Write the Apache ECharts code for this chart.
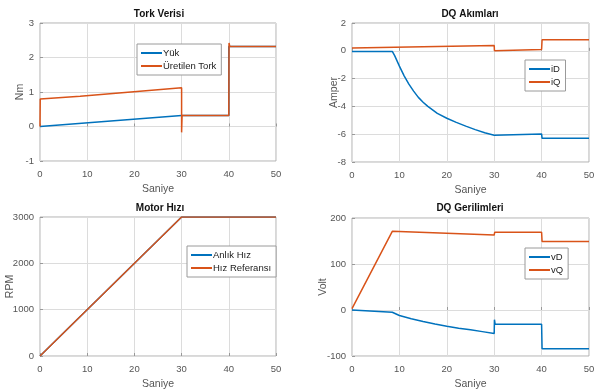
<!DOCTYPE html>
<html><head><meta charset="utf-8">
<script src="https://cdn.jsdelivr.net/npm/echarts@6/dist/echarts.min.js"></script>
<style>html,body{margin:0;padding:0;background:#fff}#c{width:594px;height:391px}</style>
</head><body><div id="c"></div>
<script>
// ---- data (time in s, value) ----
const yukData = [[0,0],[30,0.32],[30,0.32],[40,0.32],[40,2.32],[50,2.32]];
const uretilenData = [[0,0],[0.05,0.8],[8.5,0.88],[8.6,0.84],[8.7,0.89],[30,1.12],[30,-0.17],[30.1,0.32],[40,0.32],[40.05,2.42],[40.2,2.32],[50,2.32]];
const iDData = [[0,-0.05],[8.5,-0.05],[9,-0.35],[10,-1.1],[11,-1.8],[12,-2.4],[13,-2.9],[14,-3.35],[15,-3.7],[16,-4.0],[18,-4.5],[20,-4.85],[22,-5.15],[24,-5.42],[26,-5.67],[28,-5.9],[30,-6.08],[30.1,-5.98],[40,-5.98],[40.1,-6.3],[50,-6.3]];
const iQData = [[0,0.2],[30,0.38],[30.05,0.0],[30.2,0.08],[40,0.1],[40.1,0.8],[50,0.8]];
const anlikData = [[0,0],[30,3000],[50,3000]];
const referansData = [[0,0],[30,3000],[50,3000]];
const vDData = [[0,0],[8.5,-5],[10,-12],[12.5,-19],[15,-25],[17.5,-30.5],[20,-35.5],[22.5,-39.5],[25,-43],[27.5,-47],[30,-51],[30.05,-21],[30.2,-31],[40,-31],[40.1,-84],[50,-84]];
const vQData = [[0,3],[8.5,171],[30,163],[30.1,169],[40,169],[40.1,149],[50,149]];
const titles = ['Tork Verisi','DQ Akımları','Motor Hızı','DQ Gerilimleri'];
const yNames = ['Nm','Amper','RPM','Volt'];
const xName = 'Saniye';
const yMins = [-1,-8,0,-100], yMaxs = [3,2,3000,200], yInts = [1,2,1000,100];

const BLUE = '#0072BD', ORANGE = '#D95319';
const FONT = 'Liberation Sans, Arial, sans-serif';
const grids = [
  {left:40, top:23, width:236, height:138},
  {left:352, top:23, width:237, height:139},
  {left:40, top:217, width:236, height:139},
  {left:352, top:218, width:237, height:138}
];
const titlePos = [[159,9],[470,9],[160,203],[470,203]];
const legendPos = [[137,44],[525,60],[187,246],[525,248]];
const seriesNames = [['Yük','Üretilen Tork'],['iD','iQ'],['Anlık Hız','Hız Referansı'],['vD','vQ']];
const seriesData = [[yukData,uretilenData],[iDData,iQData],[anlikData,referansData],[vDData,vQData]];
const yNameGaps = [14,12.5,24.5,23.5];

const option = {
  animation:false,
  textStyle:{fontFamily:FONT},
  grid: grids.map(g=>Object.assign({show:true,borderColor:'#b0b0b0',borderWidth:1,backgroundColor:'#fff',
    containLabel:false,outerBoundsMode:'none'},g)),
  title: titles.map((t,i)=>({text:t,left:titlePos[i][0],top:titlePos[i][1],textAlign:'center',padding:0,
    textStyle:{fontSize:10,fontWeight:'bold',color:'#111',fontFamily:FONT}})),
  xAxis: grids.map((g,i)=>({type:'value',gridIndex:i,min:0,max:50,interval:10,
    name:xName,nameLocation:'middle',nameGap:23,nameMoveOverlap:false,nameTextStyle:{fontSize:10.5,color:'#555'},
    axisLine:{show:false},axisTick:{show:true,inside:true,length:3,lineStyle:{color:'#999'}},
    axisLabel:{fontSize:9.5,color:'#555',margin:8},
    splitLine:{show:true,lineStyle:{color:'#dcdcdc',width:1}}})),
  yAxis: grids.map((g,i)=>({type:'value',gridIndex:i,min:yMins[i],max:yMaxs[i],interval:yInts[i],
    name:yNames[i],nameLocation:'middle',nameGap:yNameGaps[i],nameMoveOverlap:false,nameTextStyle:{fontSize:10.5,color:'#555'},
    axisLine:{show:false},axisTick:{show:true,inside:true,length:3,lineStyle:{color:'#999'}},
    axisLabel:{fontSize:9.5,color:'#555',margin:6,formatter:v=>String(v)},
    splitLine:{show:true,lineStyle:{color:'#dcdcdc',width:1}}})),
  legend: legendPos.map((p,i)=>({orient:'vertical',left:p[0],top:p[1],data:seriesNames[i],
    icon:'rect',itemWidth:21,itemHeight:2,itemGap:3,padding:[4,5,4,4],
    borderColor:'#9a9a9a',borderWidth:1,backgroundColor:'#fff',borderRadius:0,
    textStyle:{fontSize:9.5,color:'#222',padding:[0,0,0,-4]}})),
  series: []
};
for (let i=0;i<4;i++){
  for (let j=0;j<2;j++){
    option.series.push({type:'line',name:seriesNames[i][j],xAxisIndex:i,yAxisIndex:i,
      data:seriesData[i][j],showSymbol:false,symbol:'none',
      lineStyle:{width:1.5,color:j?ORANGE:BLUE},itemStyle:{color:j?ORANGE:BLUE},z:2+j});
  }
}
const chart = echarts.init(document.getElementById('c'),null,{renderer:'canvas'});
chart.setOption(option);
</script></body></html>
